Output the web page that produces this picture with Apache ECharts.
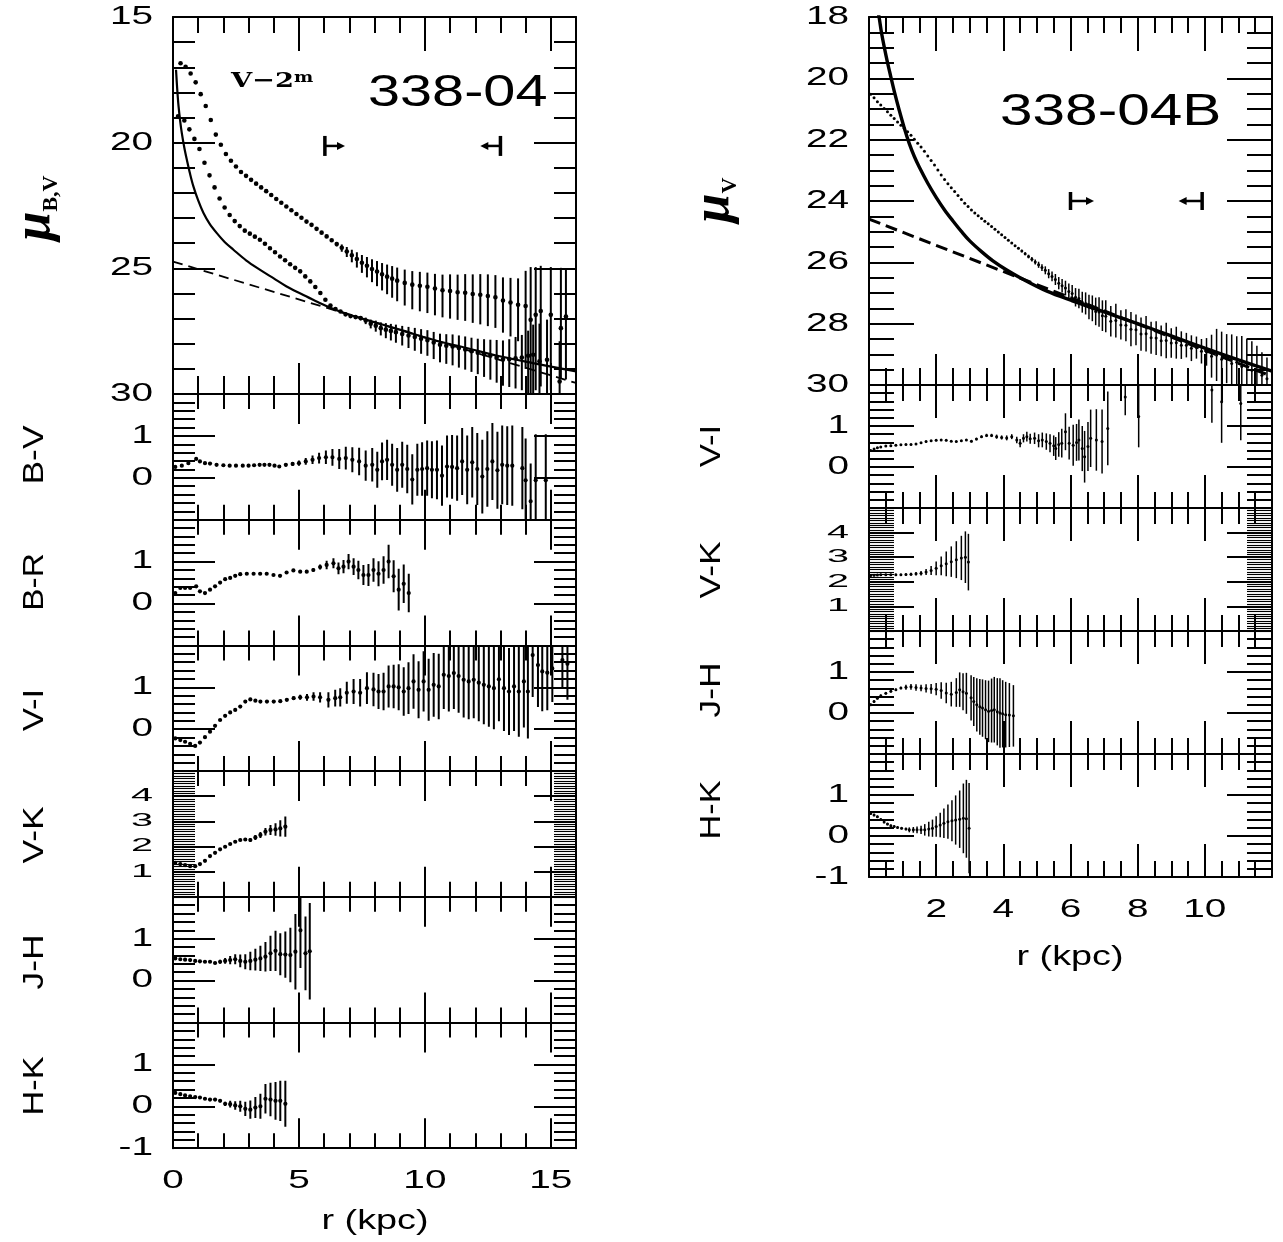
<!DOCTYPE html>
<html>
<head>
<meta charset="utf-8">
<script src="https://cdn.jsdelivr.net/npm/echarts@6/dist/echarts.min.js"></script>
<style>
html, body { margin: 0; padding: 0; background: #fff; }
#chart { width: 1283px; height: 1242px; }
</style>
</head>
<body>
<div id="chart"></div>
<script>
// ---- 338-04 : surface brightness (upper V-2 curve, lower B curve) ----
var rV2 = [0.30,0.50,0.70,0.90,1.10,1.30,1.50,1.70,1.90,2.10,
           2.30,2.50,2.70,2.90,3.10,3.30,3.50,3.70,3.90,4.10,
           4.30,4.50,4.70,4.90,5.10,5.30,5.50,5.70,5.90,6.10,
           6.30,6.50,6.70,6.90,7.10,7.30,7.50,7.70,7.90,8.10,
           8.30,8.50,8.70,8.90,9.20,9.50,9.80,10.10,10.40,10.70,
           11.00,11.30,11.60,11.90,12.20,12.50,12.80,13.10,13.40,13.70,
           14.00,14.20,14.40,14.60,15.00,15.40,15.60];
var muV2 = [16.84,16.98,17.25,17.60,18.07,18.54,19.10,19.68,20.08,20.45,
            20.72,20.95,21.17,21.32,21.48,21.63,21.78,21.93,22.08,22.24,
            22.39,22.54,22.69,22.84,22.99,23.14,23.27,23.43,23.58,23.73,
            23.88,24.03,24.18,24.33,24.48,24.63,24.78,24.90,25.03,25.13,
            25.24,25.33,25.41,25.49,25.58,25.65,25.69,25.73,25.80,25.87,
            25.90,25.95,25.97,26.02,26.05,26.10,26.15,26.28,26.36,26.45,
            26.50,27.05,26.85,26.70,26.85,27.38,26.92];
var eV2b = [0,0,0,0,0,0,0,0,0,0, 0,0,0,0,0,0,0,0,0,0, 0,0,0,0,0,0,0,0,0,0,
            0.04,0.08,0.13,0.18,0.22,0.27,0.31,0.35,0.39,0.42,
            0.45,0.48,0.50,0.52,0.53,0.54,0.55,0.56,0.58,0.62,
            0.66,0.70,0.74,0.78,0.82,0.86,0.88,0.92,0.98,1.05,
            1.40,2.10,1.90,1.80,1.90,2.40,1.90];
var eV2f = [0,0,0,0,0,0,0,0,0,0, 0,0,0,0,0,0,0,0,0,0, 0,0,0,0,0,0,0,0,0,0,
            0.05,0.10,0.16,0.22,0.28,0.34,0.40,0.46,0.52,0.58,
            0.64,0.70,0.76,0.82,0.90,0.98,1.02,1.05,1.07,1.08,
            1.10,1.10,1.12,1.15,1.18,1.20,1.22,1.28,1.35,1.45,
            2.50,3.00,3.00,3.00,3.00,2.00,2.50];

var rB = [0.20,0.45,0.65,0.85,1.05,1.25,1.45,1.65,1.85,2.05,
          2.25,2.45,2.65,2.85,3.05,3.25,3.45,3.65,3.85,4.05,
          4.25,4.45,4.65,4.85,5.05,5.25,5.45,5.65,5.85,6.05,
          6.25,6.45,6.65,6.85,7.05,7.25,7.45,7.65,7.85,8.05,
          8.25,8.45,8.65,8.85,9.10,9.35,9.60,9.85,10.10,10.35,
          10.60,10.85,11.10,11.35,11.60,11.85,12.10,12.35,12.60,12.85,
          13.10,13.35,13.60,13.85,14.10,14.30,14.55,14.85,15.35];
var muB = [18.95,19.12,19.47,19.85,20.25,20.80,21.30,21.78,22.22,22.58,
           22.88,23.12,23.32,23.50,23.62,23.74,23.86,24.02,24.20,24.36,
           24.53,24.68,24.84,24.98,25.12,25.32,25.52,25.74,25.98,26.25,
           26.48,26.62,26.72,26.83,26.90,26.94,26.98,27.08,27.20,27.28,
           27.38,27.44,27.49,27.54,27.61,27.67,27.73,27.80,27.86,27.95,
           28.04,28.08,28.11,28.17,28.23,28.30,28.36,28.42,28.48,28.55,
           28.62,28.62,28.58,28.55,28.48,28.44,28.70,28.64,29.50];
var eBb = [0,0,0,0,0,0,0,0,0,0, 0,0,0,0,0,0,0,0,0,0, 0,0,0,0,0,0,0,0,0,0,
           0,0,0,0,0,0.05,0.08,0.12,0.16,0.20,
           0.23,0.26,0.28,0.30,0.32,0.34,0.36,0.38,0.40,0.42,
           0.44,0.46,0.48,0.50,0.52,0.54,0.56,0.60,0.64,0.70,
           0.75,0.80,0.85,0.90,1.00,1.20,1.50,1.60,1.60];
var eBf = [0,0,0,0,0,0,0,0,0,0, 0,0,0,0,0,0,0,0,0,0, 0,0,0,0,0,0,0,0,0,0,
           0,0,0,0,0,0.05,0.09,0.14,0.19,0.24,
           0.29,0.34,0.38,0.42,0.46,0.50,0.55,0.60,0.62,0.66,
           0.70,0.72,0.75,0.78,0.80,0.82,0.85,0.90,0.95,1.00,
           1.05,1.10,1.20,1.30,1.50,1.60,1.60,1.40,0.60];

// bulge+disk fit (solid) and disk (dashed)
var fitR = [0.12,0.15,0.18,0.22,0.28,0.35,0.45,0.55,0.68,0.81,1.00,1.21,1.45,1.74,2.05,
            2.40,2.90,3.46,4.00,4.51,5.10,5.70,6.63,7.68,9.00,10.33,11.65,12.97,14.29,16.00];
var fitMu = [17.10,17.60,18.05,18.55,19.10,19.62,20.20,20.68,21.25,21.74,22.30,22.80,23.22,23.60,23.95,
             24.26,24.68,25.06,25.40,25.72,26.02,26.32,26.72,27.05,27.44,27.84,28.17,28.50,28.77,29.10];
var diskR = [0, 16];
var diskMu = [24.73, 29.56];
var markA = [[6.03, 20.13, 1], [13.0, 20.13, -1]];

// ---- 338-04 colours ----
var rBV = [0.09,0.35,0.61,0.92,1.07,1.27,1.47,1.73,2.00,2.25,
           2.50,2.77,3.00,3.22,3.44,3.63,3.83,4.03,4.22,4.48,
           4.75,5.00,5.27,5.54,5.80,6.07,6.33,6.60,6.86,7.12,
           7.39,7.65,7.91,8.11,8.30,8.50,8.70,8.90,9.10,9.30,
           9.50,9.70,9.89,10.09,10.28,10.48,10.68,10.88,11.08,11.28,
           11.48,11.68,11.88,12.08,12.28,12.48,12.68,12.88,13.07,13.27,
           13.47,13.87,14.00,14.20,14.40,14.80];
var bv = [0.26,0.29,0.35,0.45,0.39,0.35,0.34,0.31,0.30,0.29,
          0.29,0.29,0.29,0.30,0.31,0.31,0.31,0.29,0.27,0.31,
          0.33,0.35,0.39,0.43,0.47,0.49,0.49,0.45,0.47,0.43,
          0.39,0.29,0.31,0.19,0.39,0.43,0.31,0.19,0.31,0.21,
          -0.04,0.19,0.21,0.23,0.19,0.19,0.05,0.27,0.26,0.23,
          0.39,0.19,0.37,0.21,0.03,0.21,0.39,0.18,0.31,0.29,
          0.29,0.23,-0.06,-0.56,-0.06,-0.06];
var eBV = [0.02,0.02,0.02,0.02,0.02,0.02,0.02,0.02,0.02,0.02,
           0.02,0.02,0.02,0.02,0.02,0.02,0.03,0.03,0.03,0.04,
           0.05,0.06,0.08,0.10,0.13,0.16,0.20,0.24,0.27,0.30,
           0.33,0.36,0.40,0.43,0.45,0.48,0.50,0.52,0.55,0.58,
           0.60,0.62,0.64,0.66,0.68,0.70,0.72,0.74,0.76,0.78,
           0.80,0.82,0.84,0.86,0.88,0.90,0.92,0.92,0.94,0.94,
           0.96,0.98,1.00,0.90,1.10,1.10];

var rBR = [0.09,0.29,0.48,0.68,0.92,1.07,1.27,1.47,1.67,1.87,
           2.07,2.27,2.47,2.67,2.93,3.20,3.46,3.72,3.99,4.25,
           4.51,4.78,5.05,5.31,5.57,5.84,6.10,6.37,6.57,6.77,
           6.97,7.17,7.36,7.56,7.76,7.96,8.16,8.36,8.56,8.76,
           8.96,9.16,9.36];
var br = [0.25,0.37,0.37,0.37,0.41,0.29,0.25,0.33,0.41,0.50,
          0.58,0.61,0.66,0.70,0.71,0.71,0.71,0.71,0.68,0.66,
          0.74,0.79,0.76,0.76,0.80,0.87,0.92,0.96,0.84,0.88,
          1.00,0.88,0.80,0.68,0.68,0.80,0.71,0.80,1.00,0.65,
          0.33,0.47,0.25];
var eBR = [0.02,0.02,0.02,0.02,0.02,0.02,0.02,0.02,0.02,0.02,
           0.02,0.02,0.02,0.02,0.02,0.02,0.02,0.02,0.02,0.02,
           0.02,0.02,0.02,0.03,0.04,0.06,0.10,0.12,0.14,0.16,
           0.18,0.20,0.22,0.24,0.26,0.28,0.30,0.33,0.40,0.38,
           0.50,0.46,0.46];

var rVI = [0.09,0.29,0.48,0.68,0.88,1.07,1.27,1.47,1.67,1.87,
           2.07,2.27,2.47,2.67,2.87,3.07,3.27,3.47,3.73,4.00,
           4.26,4.52,4.79,5.05,5.32,5.58,5.84,6.17,6.44,6.64,
           6.90,7.17,7.43,7.70,7.96,8.16,8.36,8.56,8.76,8.96,
           9.16,9.35,9.55,9.75,9.95,10.15,10.35,10.55,10.75,10.95,
           11.15,11.34,11.54,11.74,11.94,12.14,12.34,12.54,12.74,12.94,
           13.14,13.34,13.54,13.73,13.93,14.09,14.28,14.49,14.66,14.86,
           15.06,15.46,15.66];
var vi = [-0.22,-0.26,-0.30,-0.35,-0.40,-0.32,-0.19,-0.06,0.08,0.22,
          0.32,0.40,0.46,0.54,0.66,0.71,0.68,0.66,0.66,0.66,
          0.67,0.70,0.74,0.76,0.76,0.78,0.76,0.70,0.74,0.76,
          0.87,0.90,0.87,0.98,0.95,0.90,0.90,1.02,1.02,1.00,
          0.90,0.98,1.14,0.94,1.14,0.94,1.06,1.02,1.30,1.27,
          1.34,1.27,1.18,1.14,1.18,1.11,1.06,1.02,0.98,1.19,
          0.98,0.90,1.02,0.90,1.14,0.90,1.77,1.53,1.38,1.35,
          1.45,1.65,1.56];
var eVI = [0.02,0.02,0.02,0.02,0.02,0.02,0.02,0.02,0.02,0.02,
           0.02,0.02,0.02,0.02,0.02,0.02,0.02,0.02,0.02,0.02,
           0.02,0.03,0.04,0.06,0.08,0.10,0.12,0.18,0.20,0.22,
           0.26,0.30,0.33,0.38,0.40,0.42,0.45,0.50,0.52,0.55,
           0.58,0.62,0.65,0.68,0.72,0.74,0.76,0.78,0.82,0.85,
           0.86,0.88,0.90,0.90,0.92,0.92,0.94,0.96,0.98,1.00,
           1.02,1.04,1.06,1.08,1.10,1.12,1.00,1.00,0.95,0.90,
           0.80,0.66,0.86];

var rVK = [0.09,0.29,0.48,0.68,0.88,1.07,1.27,1.47,1.67,1.87,
           2.07,2.27,2.47,2.67,2.87,3.07,3.27,3.47,3.67,3.87,
           4.07,4.26,4.46];
var vk = [1.35,1.30,1.26,1.22,1.22,1.30,1.43,1.62,1.75,1.89,
          1.99,2.10,2.19,2.26,2.28,2.26,2.36,2.46,2.59,2.66,
          2.68,2.72,2.79];
var eVK = [0.03,0.03,0.03,0.03,0.03,0.03,0.03,0.03,0.03,0.03,
           0.03,0.03,0.03,0.05,0.06,0.08,0.10,0.12,0.15,0.20,
           0.25,0.32,0.40];

var rJH = [0.09,0.29,0.48,0.68,0.88,1.07,1.27,1.47,1.67,1.87,
           2.07,2.27,2.47,2.67,2.87,3.07,3.27,3.47,3.67,3.87,
           4.07,4.26,4.46,4.66,4.86,5.06,5.26,5.43];
var jh = [0.53,0.51,0.50,0.49,0.47,0.46,0.45,0.45,0.42,0.45,
          0.47,0.49,0.51,0.47,0.45,0.47,0.50,0.53,0.57,0.65,
          0.71,0.63,0.62,0.61,0.69,1.20,0.65,0.70];
var eJH = [0.02,0.02,0.02,0.02,0.02,0.02,0.02,0.02,0.03,0.05,
           0.07,0.10,0.12,0.15,0.18,0.22,0.26,0.30,0.35,0.42,
           0.48,0.50,0.55,0.65,0.90,0.90,0.88,1.15];

var rHK = [0.09,0.29,0.48,0.68,0.88,1.07,1.27,1.47,1.67,1.87,
           2.07,2.27,2.47,2.67,2.87,3.07,3.27,3.47,3.67,3.87,
           4.07,4.26,4.46];
var hk = [0.32,0.29,0.26,0.24,0.22,0.21,0.18,0.16,0.16,0.13,
          0.06,0.05,0.02,0.00,-0.06,-0.08,-0.03,0.00,0.18,0.16,
          0.13,0.13,0.06];
var eHK = [0.02,0.02,0.02,0.02,0.02,0.02,0.02,0.02,0.02,0.03,
           0.05,0.08,0.10,0.13,0.17,0.22,0.25,0.30,0.35,0.40,
           0.45,0.48,0.55];

// ---- 338-04B ----
var rVb = [0.05,0.15,0.25,0.35,0.45,0.55,0.65,0.75,0.85,0.95,
           1.05,1.15,1.25,1.35,1.45,1.55,1.65,1.75,1.85,1.95,
           2.05,2.15,2.25,2.35,2.45,2.55,2.65,2.75,2.85,2.95,
           3.05,3.15,3.25,3.35,3.45,3.55,3.65,3.75,3.85,3.95,
           4.05,4.15,4.25,4.35,4.45,4.55,4.65,4.75,4.85,4.95,
           5.05,5.15,5.25,5.35,5.45,5.55,5.65,5.75,5.85,5.95,
           6.05,6.15,6.25,6.35,6.45,6.55,6.65,6.75,6.85,6.95,
           7.05,7.20,7.35,7.50,7.65,7.80,7.95,8.10,8.25,8.40,
           8.55,8.70,8.85,9.00,9.15,9.30,9.45,9.60,9.75,9.90,
           10.05,10.20,10.35,10.50,10.65,10.80,10.95,11.10,11.25,11.40,
           11.55,11.70,11.85];
var muVb = [20.52,20.63,20.76,20.87,20.98,21.09,21.20,21.31,21.42,21.53,
            21.63,21.74,21.86,21.99,22.12,22.24,22.38,22.53,22.68,22.83,
            22.99,23.15,23.30,23.44,23.57,23.69,23.82,23.95,24.07,24.18,
            24.29,24.39,24.48,24.57,24.66,24.74,24.83,24.92,25.01,25.10,
            25.19,25.28,25.37,25.46,25.54,25.63,25.72,25.81,25.90,25.99,
            26.08,26.17,26.26,26.37,26.46,26.56,26.68,26.76,26.84,26.95,
            27.02,27.14,27.18,27.30,27.34,27.46,27.50,27.60,27.62,27.74,
            27.76,27.92,27.90,28.04,28.05,28.18,28.20,28.34,28.33,28.46,
            28.47,28.56,28.55,28.63,28.62,28.70,28.70,28.80,28.78,28.90,
            28.92,29.06,29.02,29.16,29.14,29.30,29.26,29.40,29.38,29.52,
            29.52,29.68,29.80];
var eVb = [0,0,0,0,0,0,0,0,0,0, 0,0,0,0,0,0,0,0,0,0,
           0,0,0,0,0,0,0,0,0,0, 0,0,0,0,0,0,0,0,0,0,
           0,0,0,0,0.03,0.04,0.05,0.06,0.07,0.08,
           0.10,0.11,0.13,0.15,0.16,0.18,0.20,0.22,0.24,0.26,
           0.28,0.30,0.32,0.34,0.36,0.40,0.42,0.45,0.48,0.50,
           0.52,0.50,0.55,0.48,0.52,0.56,0.50,0.54,0.58,0.52,
           0.55,0.50,0.58,0.48,0.52,0.45,0.40,0.42,0.36,0.40,
           0.45,0.70,0.85,0.90,0.80,0.95,0.85,1.00,0.90,0.95,
           0.80,0.75,0.70];
var fitRb = [0.26,0.30,0.37,0.45,0.55,0.65,0.77,0.90,1.05,1.20,1.35,1.50,1.75,2.00,2.25,
             2.50,2.75,3.00,3.35,3.70,4.10,4.50,5.30,6.10,7.00,8.00,9.00,10.00,11.00,12.00];
var fitMub = [17.80,18.00,18.50,18.96,19.48,19.95,20.50,21.04,21.62,22.13,22.55,22.90,23.42,23.88,24.29,
              24.65,24.99,25.30,25.65,25.96,26.25,26.50,26.94,27.27,27.62,28.00,28.40,28.80,29.18,29.55];
var diskRb = [0, 12];
var diskMub = [24.59, 29.72];
var markB = [[6.0, 24.0, 1], [9.92, 24.0, -1]];

var rVIb = [0.05,0.15,0.25,0.35,0.50,0.65,0.80,0.95,1.10,1.25,
            1.40,1.55,1.70,1.85,2.00,2.15,2.30,2.45,2.60,2.75,
            2.90,3.05,3.20,3.35,3.50,3.65,3.80,3.95,4.10,4.25,
            4.40,4.50,4.60,4.70,4.80,4.93,5.05,5.16,5.28,5.39,
            5.50,5.56,5.65,5.74,5.85,5.96,6.08,6.18,6.25,6.35,
            6.42,6.52,6.60,6.77,6.94,7.11,7.63,8.03,10.21,10.50,
            11.07];
var vib = [0.40,0.44,0.47,0.49,0.51,0.52,0.53,0.54,0.55,0.55,
           0.56,0.59,0.62,0.64,0.65,0.66,0.65,0.63,0.62,0.64,
           0.66,0.63,0.68,0.74,0.77,0.77,0.74,0.72,0.71,0.74,
           0.66,0.58,0.70,0.74,0.69,0.70,0.64,0.66,0.62,0.58,
           0.52,0.45,0.55,0.58,0.86,0.58,0.53,0.60,0.66,0.45,
           0.25,0.50,0.70,0.66,0.62,0.94,1.71,1.23,1.88,1.59,
           1.55];
var eVIb = [0.02,0.02,0.02,0.02,0.02,0.02,0.02,0.02,0.02,0.02,
            0.02,0.02,0.02,0.02,0.02,0.02,0.02,0.02,0.02,0.02,
            0.02,0.03,0.03,0.03,0.04,0.04,0.05,0.05,0.06,0.06,
            0.08,0.10,0.10,0.12,0.12,0.14,0.16,0.18,0.20,0.22,
            0.25,0.28,0.30,0.35,0.45,0.40,0.50,0.45,0.50,0.55,
            0.63,0.60,0.70,0.75,0.78,0.90,0.45,0.75,0.80,1.00,
            0.90];

var rVKb = [0.05,0.15,0.25,0.35,0.50,0.65,0.80,0.95,1.10,1.25,
            1.40,1.55,1.70,1.85,2.00,2.15,2.30,2.45,2.60,2.75,
            2.87,2.96];
var vkb = [2.26,2.27,2.28,2.29,2.29,2.29,2.29,2.29,2.30,2.31,
           2.33,2.35,2.40,2.46,2.55,2.65,2.73,2.82,2.90,2.97,
           3.00,2.80];
var eVKb = [0.04,0.04,0.04,0.04,0.04,0.04,0.04,0.04,0.05,0.06,
            0.07,0.09,0.12,0.18,0.28,0.38,0.50,0.62,0.75,0.90,
            1.05,1.15];

var rJHb = [0.05,0.15,0.25,0.35,0.50,0.65,0.80,0.95,1.10,1.25,
            1.40,1.55,1.70,1.85,2.00,2.15,2.30,2.45,2.60,2.70,
            2.80,2.90,3.04,3.12,3.21,3.30,3.38,3.47,3.56,3.65,
            3.73,3.82,3.90,3.98,4.07,4.18,4.30];
var jhb = [0.20,0.28,0.36,0.42,0.48,0.53,0.57,0.61,0.63,0.64,
           0.62,0.61,0.60,0.59,0.58,0.55,0.49,0.46,0.50,0.57,
           0.52,0.48,0.37,0.28,0.20,0.15,0.12,0.08,0.04,0.06,
           0.08,0.03,0.00,-0.02,-0.04,-0.05,-0.07];
var eJHb = [0.03,0.03,0.03,0.03,0.03,0.03,0.03,0.03,0.06,0.07,
            0.08,0.08,0.10,0.12,0.15,0.20,0.25,0.30,0.35,0.42,
            0.45,0.50,0.55,0.60,0.65,0.68,0.70,0.72,0.75,0.78,
            0.80,0.82,0.85,0.82,0.80,0.78,0.75];

var rHKb = [0.05,0.15,0.25,0.35,0.45,0.55,0.65,0.75,0.85,0.97,
            1.10,1.20,1.32,1.43,1.55,1.66,1.78,1.89,2.00,2.12,
            2.23,2.35,2.47,2.58,2.70,2.81,2.90,2.98];
var hkb = [0.55,0.51,0.47,0.40,0.34,0.29,0.25,0.23,0.21,0.19,
           0.17,0.15,0.15,0.15,0.15,0.15,0.17,0.19,0.23,0.27,
           0.31,0.35,0.37,0.39,0.41,0.43,0.42,0.19];
var eHKb = [0.03,0.03,0.03,0.03,0.03,0.03,0.03,0.03,0.03,0.03,
            0.03,0.06,0.07,0.08,0.10,0.14,0.18,0.21,0.25,0.30,
            0.36,0.42,0.50,0.60,0.70,0.85,0.95,1.10];

// ---- tick labels ----
var muTicksA = [15, 20, 25, 30];
var muTicksB = [18, 20, 22, 24, 26, 28, 30];
var colTicks = [0, 1];
var vkTicks = [1, 2, 3, 4];
var hkTicks = [-1, 0, 1];
var rTicksA = [0, 5, 10, 15];
var rTicksB = [2, 4, 6, 8, 10];

// ---- layout of the panels ----
var LX = 173, LW = 403, RX = 869, RW = 403;
var colorY = [-1, 2, 1, 0.2];
var vkY = [0, 5, 1, 0.1];
var panels = [
    {left: LX, width: LW, top: 17,     height: 377,   x: [0, 16, 5, 1], y: [15, 30, 5, 1], inv: true, tx: [34, 16, 31, 18], ty: [42, 22], yt: muTicksA},
    {left: LX, width: LW, top: 394,    height: 125.7, x: [0, 16, 5, 1], y: colorY, tx: [30, 15, 30, 15], ty: [42, 22], yt: colTicks},
    {left: LX, width: LW, top: 519.7,  height: 125.7, x: [0, 16, 5, 1], y: colorY, tx: [30, 15, 30, 15], ty: [42, 22], yt: colTicks},
    {left: LX, width: LW, top: 645.4,  height: 125.7, x: [0, 16, 5, 1], y: colorY, tx: [30, 15, 30, 15], ty: [42, 22], yt: colTicks},
    {left: LX, width: LW, top: 771.1,  height: 125.7, x: [0, 16, 5, 1], y: vkY, tx: [30, 15, 30, 15], ty: [42, 22], yt: vkTicks, small: true},
    {left: LX, width: LW, top: 896.8,  height: 125.7, x: [0, 16, 5, 1], y: colorY, tx: [30, 15, 30, 15], ty: [42, 22], yt: colTicks},
    {left: LX, width: LW, top: 1022.5, height: 125.7, x: [0, 16, 5, 1], y: colorY, tx: [30, 15, 30, 15], ty: [42, 22], yt: hkTicks, xt: rTicksA},
    {left: RX, width: RW, top: 17,  height: 368, x: [0, 12, 2, 0.5], y: [18, 30, 2, 0.5], inv: true, tx: [34, 16, 31, 17], ty: [45, 25], yt: muTicksB},
    {left: RX, width: RW, top: 385, height: 123, x: [0, 12, 2, 0.5], y: colorY, tx: [33, 16, 33, 16], ty: [45, 25], yt: colTicks},
    {left: RX, width: RW, top: 508, height: 123, x: [0, 12, 2, 0.5], y: vkY, tx: [33, 16, 33, 16], ty: [45, 25], yt: vkTicks, small: true},
    {left: RX, width: RW, top: 631, height: 123, x: [0, 12, 2, 0.5], y: colorY, tx: [33, 16, 33, 16], ty: [45, 25], yt: colTicks},
    {left: RX, width: RW, top: 754, height: 123, x: [0, 12, 2, 0.5], y: colorY, tx: [33, 16, 33, 16], ty: [45, 25], yt: hkTicks, xt: rTicksB}
];

function makeAxis(gi, pos, min, max, step, len, line, inv, tw) {
    return {
        type: 'value', gridIndex: gi, position: pos,
        min: min, max: max, interval: step, inverse: !!inv,
        axisLine: {show: line, onZero: false, lineStyle: {color: '#000', width: 2}},
        axisTick: {show: true, inside: true, length: len, lineStyle: {color: '#000', width: tw || 2}},
        axisLabel: {show: false},
        splitLine: {show: false},
        minorTick: {show: false},
        minorSplitLine: {show: false}
    };
}

var grid = [], xAxis = [], yAxis = [], ref = [];
panels.forEach(function (p, gi) {
    var tw = p.small ? 1.1 : 2;
    grid.push({left: p.left, top: p.top, width: p.width, height: p.height, outerBoundsMode: 'none', containLabel: false});
    ref.push([xAxis.length, yAxis.length]);
    xAxis.push(makeAxis(gi, 'bottom', p.x[0], p.x[1], p.x[2], p.tx[2], true));
    xAxis.push(makeAxis(gi, 'bottom', p.x[0], p.x[1], p.x[3], p.tx[3], false));
    xAxis.push(makeAxis(gi, 'top', p.x[0], p.x[1], p.x[2], p.tx[0], true));
    xAxis.push(makeAxis(gi, 'top', p.x[0], p.x[1], p.x[3], p.tx[1], false));
    yAxis.push(makeAxis(gi, 'left', p.y[0], p.y[1], p.y[2], p.ty[0], true, p.inv));
    yAxis.push(makeAxis(gi, 'left', p.y[0], p.y[1], p.y[3], p.ty[1], false, p.inv, tw));
    yAxis.push(makeAxis(gi, 'right', p.y[0], p.y[1], p.y[2], p.ty[0], true, p.inv));
    yAxis.push(makeAxis(gi, 'right', p.y[0], p.y[1], p.y[3], p.ty[1], false, p.inv, tw));
});

// points with (possibly asymmetric) error bars
function errSeries(gi, rs, vs, eLo, eHi, rad, lw) {
    var data = rs.map(function (r, i) {
        return [r, vs[i], vs[i] - eLo[i], vs[i] + eHi[i]];
    });
    return {
        type: 'custom', xAxisIndex: ref[gi][0], yAxisIndex: ref[gi][1],
        clip: true, silent: true, data: data, encode: {x: 0, y: 1},
        renderItem: function (params, api) {
            var x = api.value(0);
            var p = api.coord([x, api.value(1)]);
            var kids = [];
            if (api.value(3) > api.value(2)) {
                var a = api.coord([x, api.value(2)]);
                var b = api.coord([x, api.value(3)]);
                kids.push({type: 'line', shape: {x1: a[0], y1: a[1], x2: b[0], y2: b[1]},
                           style: {stroke: '#000', lineWidth: lw}});
            }
            kids.push({type: 'circle', shape: {cx: p[0], cy: p[1], r: rad}, style: {fill: '#000'}});
            return {type: 'group', children: kids};
        }
    };
}

function lineSeries(gi, rs, vs, w, dash) {
    return {
        type: 'line', xAxisIndex: ref[gi][0], yAxisIndex: ref[gi][1],
        data: rs.map(function (r, i) { return [r, vs[i]]; }),
        showSymbol: false, symbol: 'none', silent: true, clip: true,
        smooth: rs.length > 2 ? 0.35 : false,
        lineStyle: {color: '#000', width: w, type: dash || 'solid'}
    };
}

// fit range markers  |->  <-|
function markSeries(gi, marks, len, half) {
    return {
        type: 'custom', xAxisIndex: ref[gi][0], yAxisIndex: ref[gi][1],
        silent: true, data: marks, encode: {x: 0, y: 1},
        renderItem: function (params, api) {
            var d = api.value(2);
            var p = api.coord([api.value(0), api.value(1)]);
            var q = api.coord([api.value(0) + d * len, api.value(1)]);
            return {type: 'group', children: [
                {type: 'line', shape: {x1: p[0], y1: p[1] - half, x2: p[0], y2: p[1] + half}, style: {stroke: '#000', lineWidth: 3.5}},
                {type: 'line', shape: {x1: p[0], y1: p[1], x2: q[0] - d * 5, y2: q[1]}, style: {stroke: '#000', lineWidth: 2.5}},
                {type: 'polygon', shape: {points: [[q[0], q[1]], [q[0] - d * 8, q[1] - 4], [q[0] - d * 8, q[1] + 4]]}, style: {fill: '#000'}}
            ]};
        }
    };
}

var series = [
    lineSeries(0, fitR, fitMu, 2.2),
    lineSeries(0, diskR, diskMu, 1.8, [10, 6]),
    errSeries(0, rV2, muV2, eV2b, eV2f, 2.3, 2),
    errSeries(0, rB, muB, eBb, eBf, 2.3, 2),
    markSeries(0, markA, 0.8, 10),
    errSeries(1, rBV, bv, eBV, eBV, 2.1, 2),
    errSeries(2, rBR, br, eBR, eBR, 2.1, 2),
    errSeries(3, rVI, vi, eVI, eVI, 2.1, 2),
    errSeries(4, rVK, vk, eVK, eVK, 2.1, 2),
    errSeries(5, rJH, jh, eJH, eJH, 2.1, 2),
    errSeries(6, rHK, hk, eHK, eHK, 2.1, 2),
    lineSeries(7, fitRb, fitMub, 3.4),
    lineSeries(7, diskRb, diskMub, 3, [12, 6]),
    errSeries(7, rVb, muVb, eVb, eVb, 1.5, 1.5),
    markSeries(7, markB, 0.7, 9),
    errSeries(8, rVIb, vib, eVIb, eVIb, 1.5, 1.5),
    errSeries(9, rVKb, vkb, eVKb, eVKb, 1.5, 1.5),
    errSeries(10, rJHb, jhb, eJHb, eJHb, 1.5, 1.5),
    errSeries(11, rHKb, hkb, eHKb, eHKb, 1.5, 1.5)
];

function txt(x, y, s, font, opts) {
    opts = opts || {};
    return {
        type: 'text', x: x, y: y, rotation: opts.rot || 0, scaleX: opts.sx || 1, silent: true,
        style: {
            text: s, font: font, fill: '#000',
            align: opts.align || 'center', textAlign: opts.align || 'center',
            verticalAlign: 'middle', textVerticalAlign: 'middle',
            rich: opts.rich
        }
    };
}

var SIDE = '29px "Liberation Sans"';
var ROT = Math.PI / 2;
var muRich = {
    m: {font: 'bold italic 52px "Liberation Serif"', fill: '#000'},
    s: {font: 'bold 22px "Liberation Serif"', fill: '#000', verticalAlign: 'bottom'}
};
var graphic = [
    txt(368, 94, '338-04', '44px "Liberation Sans"', {align: 'left', sx: 1.31}),
    txt(1000, 113, '338-04B', '44px "Liberation Sans"', {align: 'left', sx: 1.33}),
    txt(231, 82, '{a|V\u22122}{b|m}', 'bold 21px "DejaVu Serif"', {align: 'left', sx: 1.3, rich: {
        a: {font: 'bold 21px "DejaVu Serif"', fill: '#000'},
        b: {font: 'bold 14px "DejaVu Serif"', fill: '#000', verticalAlign: 'top'}
    }}),
    txt(36, 208, '{m|\u03bc}{s|B,V}', 'bold 20px "Liberation Serif"', {rot: ROT, rich: muRich}),
    txt(715, 200, '{m|\u03bc}{s|V}', 'bold 20px "Liberation Serif"', {rot: ROT, rich: muRich}),
    txt(35, 455, 'B-V', SIDE, {rot: ROT, sx: 1.22}),
    txt(35, 582, 'B-R', SIDE, {rot: ROT, sx: 1.15}),
    txt(35, 710, 'V-I', SIDE, {rot: ROT, sx: 1.2}),
    txt(35, 835, 'V-K', SIDE, {rot: ROT, sx: 1.22}),
    txt(35, 962, 'J-H', SIDE, {rot: ROT, sx: 1.22}),
    txt(35, 1086, 'H-K', SIDE, {rot: ROT, sx: 1.18}),
    txt(712, 446, 'V-I', SIDE, {rot: ROT, sx: 1.2}),
    txt(712, 570, 'V-K', SIDE, {rot: ROT, sx: 1.22}),
    txt(712, 690, 'J-H', SIDE, {rot: ROT, sx: 1.22}),
    txt(712, 810, 'H-K', SIDE, {rot: ROT, sx: 1.18}),
    txt(375, 1222, 'r (kpc)', '27px "Liberation Sans"', {sx: 1.4}),
    txt(1070, 958, 'r (kpc)', '27px "Liberation Sans"', {sx: 1.4})
];

var chart = echarts.init(document.getElementById('chart'), null, {renderer: 'canvas'});
chart.setOption({
    backgroundColor: '#fff',
    animation: false,
    grid: grid,
    xAxis: xAxis,
    yAxis: yAxis,
    series: series
});

// tick labels: wide, flat glyphs as in the figure, placed through the axes
var TICK = '25px "Liberation Sans"';
panels.forEach(function (p, gi) {
    var finder = {xAxisIndex: ref[gi][0], yAxisIndex: ref[gi][1]};
    p.yt.forEach(function (v) {
        var pt = chart.convertToPixel(finder, [p.x[0], v]);
        graphic.push(txt(pt[0] - 20, pt[1], String(v), p.small ? '18px "Liberation Sans"' : TICK,
                         {align: 'right', sx: p.small ? 2.2 : 1.55}));
    });
    (p.xt || []).forEach(function (v) {
        var pt = chart.convertToPixel(finder, [v, p.y[0]]);
        graphic.push(txt(pt[0], pt[1] + 33, String(v), TICK, {sx: 1.55}));
    });
});
chart.setOption({graphic: graphic});
</script>
</body>
</html>
